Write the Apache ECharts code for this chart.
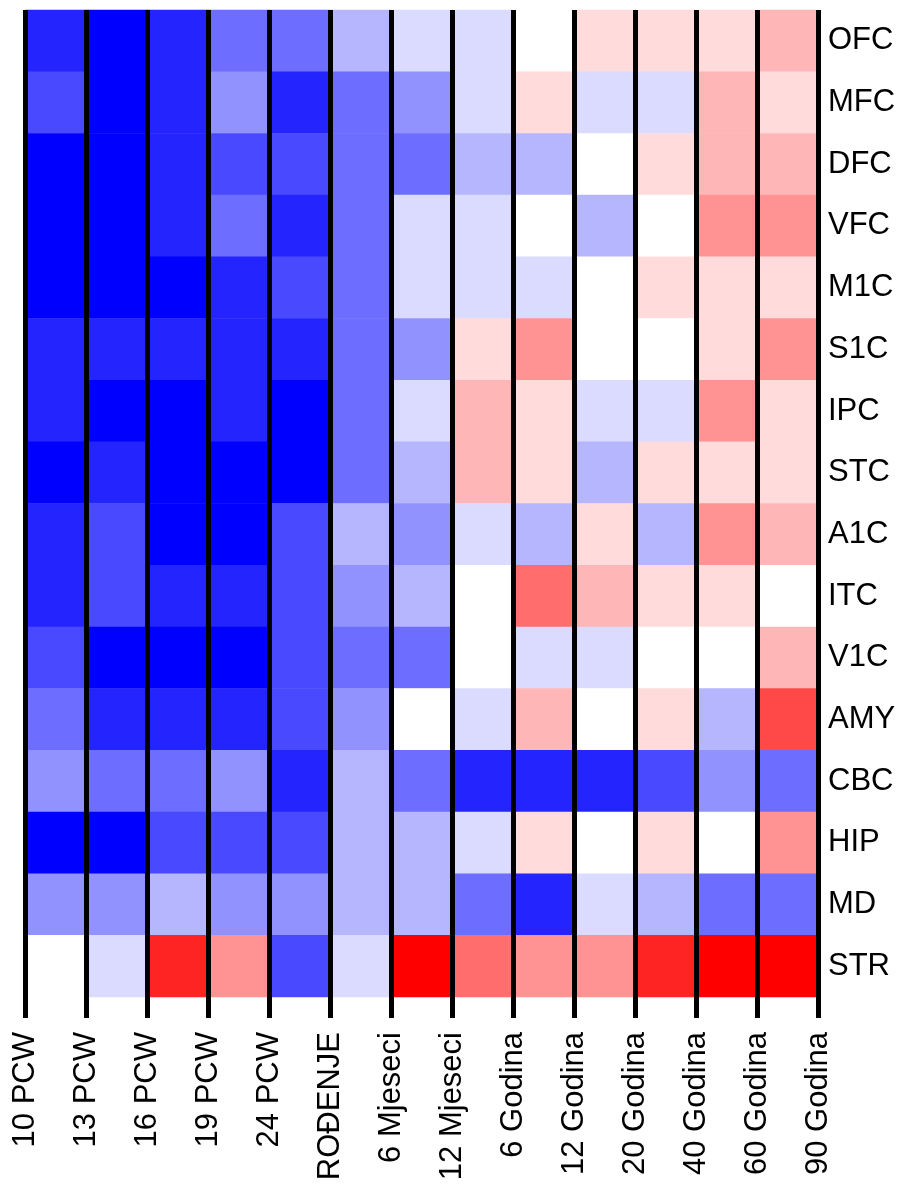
<!DOCTYPE html>
<html>
<head>
<meta charset="utf-8">
<script src="https://cdn.jsdelivr.net/npm/echarts@6/dist/echarts.min.js"></script>
<style>
html, body { margin: 0; padding: 0; background: #ffffff; }
#chart { width: 908px; height: 1187px; }
</style>
</head>
<body>
<div id="chart"></div>
<script>
// Time points (labels sit on the boundary lines)
const timeLabels = ['10 PCW', '13 PCW', '16 PCW', '19 PCW', '24 PCW', 'ROĐENJE', '6 Mjeseci', '12 Mjeseci', '6 Godina', '12 Godina', '20 Godina', '40 Godina', '60 Godina', '90 Godina'];
// Brain regions (rows, top to bottom)
const regions = ['OFC', 'MFC', 'DFC', 'VFC', 'M1C', 'S1C', 'IPC', 'STC', 'A1C', 'ITC', 'V1C', 'AMY', 'CBC', 'HIP', 'MD', 'STR'];

// Discrete levels per region (-7 = strongest blue ... 0 = white ... 7 = strongest red), 13 intervals each
const OFC = [-6, -7, -6, -4, -4, -2, -1, -1, 0, 1, 1, 1, 2];
const MFC = [-5, -7, -6, -3, -6, -4, -3, -1, 1, -1, -1, 2, 1];
const DFC = [-7, -7, -6, -5, -5, -4, -4, -2, -2, 0, 1, 2, 2];
const VFC = [-7, -7, -6, -4, -6, -4, -1, -1, 0, -2, 0, 3, 3];
const M1C = [-7, -7, -7, -6, -5, -4, -1, -1, -1, 0, 1, 1, 1];
const S1C = [-6, -6, -6, -6, -6, -4, -3, 1, 3, 0, 0, 1, 3];
const IPC = [-6, -7, -7, -6, -7, -4, -1, 2, 1, -1, -1, 3, 1];
const STC = [-7, -6, -7, -7, -7, -4, -2, 2, 1, -2, 1, 1, 1];
const A1C = [-6, -5, -7, -7, -5, -2, -3, -1, -2, 1, -2, 3, 2];
const ITC = [-6, -5, -6, -6, -5, -3, -2, 0, 4, 2, 1, 1, 0];
const V1C = [-5, -7, -7, -7, -5, -4, -4, 0, -1, -1, 0, 0, 2];
const AMY = [-4, -6, -6, -6, -5, -3, 0, -1, 2, 0, 1, -2, 5];
const CBC = [-3, -4, -4, -3, -6, -2, -4, -6, -6, -6, -5, -3, -4];
const HIP = [-7, -7, -5, -5, -5, -2, -2, -1, 1, 0, 1, 0, 3];
const MD  = [-3, -3, -2, -3, -3, -2, -2, -4, -6, -1, -2, -4, -4];
const STR = [0, -1, 6, 3, -5, -1, 7, 4, 3, 3, 6, 7, 7];

const rows = [OFC, MFC, DFC, VFC, M1C, S1C, IPC, STC, A1C, ITC, V1C, AMY, CBC, HIP, MD, STR];

const levelColors = ['#0000ff', '#2424ff', '#4949ff', '#6d6dff', '#9292ff', '#b6b6ff', '#dbdbff', '#ffffff',
                     '#ffdbdb', '#ffb6b6', '#ff9292', '#ff6d6d', '#ff4949', '#ff2424', '#ff0000'];

const intervals = timeLabels.slice(0, timeLabels.length - 1).map(function (t, i) { return t + ' – ' + timeLabels[i + 1]; });

const data = [];
rows.forEach(function (r, ri) {
  r.forEach(function (v, ci) { data.push([ci, ri, v]); });
});

const pieces = levelColors.map(function (c, i) { return { value: i - 7, color: c }; });

const FONT = '"Liberation Sans", Arial, sans-serif';

const chart = echarts.init(document.getElementById('chart'), null, { renderer: 'canvas' });
chart.setOption({
  backgroundColor: '#ffffff',
  animation: false,
  grid: { left: 25.5, top: 10, width: 792.5, height: 987, containLabel: false },
  xAxis: [
    {
      type: 'category',
      data: intervals,
      position: 'top',
      show: false
    },
    {
      type: 'category',
      data: timeLabels,
      position: 'bottom',
      boundaryGap: false,
      z: 10,
      axisLine: { show: false },
      axisTick: { show: true, length: 21, lineStyle: { color: '#000', width: 5 } },
      splitLine: { show: true, showMinLine: true, showMaxLine: true, lineStyle: { color: '#000', width: 5 } },
      axisLabel: {
        rotate: 90,
        margin: 35,
        fontSize: 31,
        color: '#000',
        fontFamily: FONT,
        interval: 0
      }
    }
  ],
  yAxis: {
    type: 'category',
    data: regions,
    inverse: true,
    position: 'right',
    axisLine: { show: false },
    axisTick: { show: false },
    splitLine: { show: false },
    axisLabel: { margin: 10, fontSize: 31, color: '#000', fontFamily: FONT, interval: 0 }
  },
  visualMap: {
    type: 'piecewise',
    show: false,
    dimension: 2,
    pieces: pieces
  },
  series: [{
    type: 'heatmap',
    xAxisIndex: 0,
    yAxisIndex: 0,
    data: data,
    itemStyle: { borderWidth: 0 },
    emphasis: { disabled: true }
  }]
});
</script>
</body>
</html>
